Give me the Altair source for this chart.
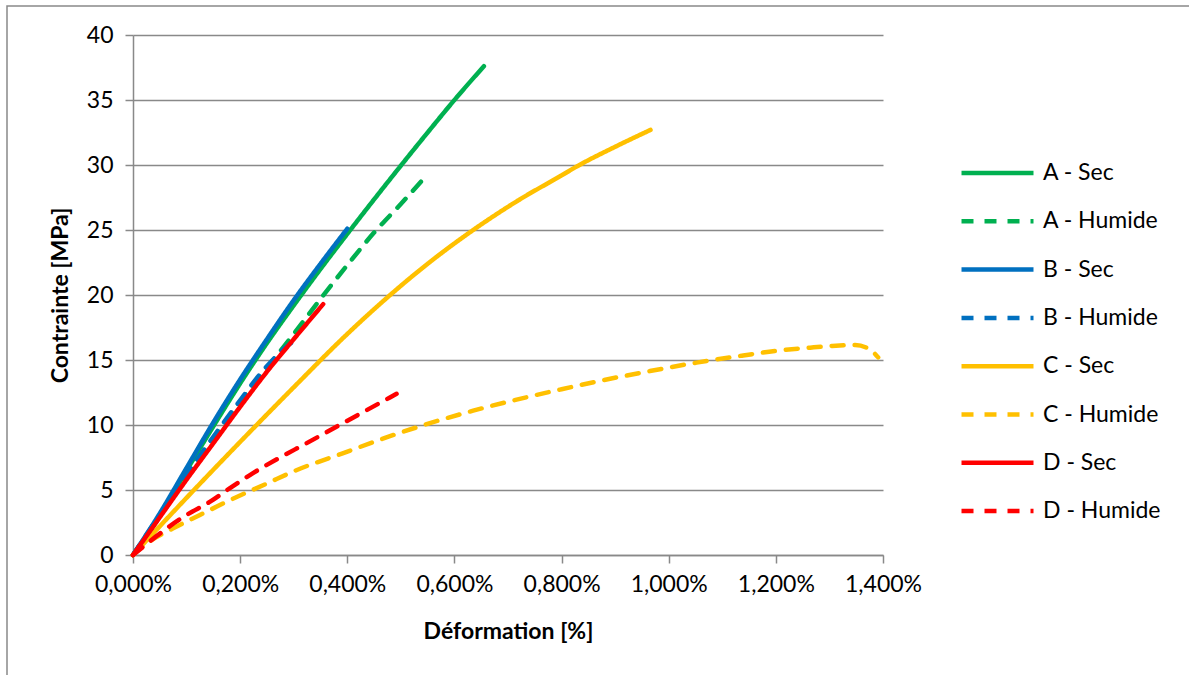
import altair as alt
import pandas as pd

# Stress-strain curves: strain in %, stress in MPa
series_names = ["A - Sec", "A - Humide", "B - Sec", "B - Humide",
                "C - Sec", "C - Humide", "D - Sec", "D - Humide"]
series_colors = ["#00B050", "#00B050", "#0070C0", "#0070C0",
                 "#FFC000", "#FFC000", "#FF0000", "#FF0000"]
series_dashes = [[1, 0], [12, 11], [1, 0], [12, 11],
                 [1, 0], [12, 11], [1, 0], [12, 11]]

a_sec_strain = [0, 0.05, 0.10, 0.15, 0.20, 0.25, 0.30, 0.35, 0.40, 0.45, 0.50, 0.55, 0.60, 0.655]
a_sec_stress = [0, 3.0, 6.5, 9.9, 13.2, 16.3, 19.2, 22.0, 24.7, 27.35, 29.95, 32.5, 35.0, 37.6]

a_hum_strain = [0, 0.05, 0.10, 0.15, 0.20, 0.25, 0.30, 0.35, 0.40, 0.45, 0.50, 0.548]
a_hum_stress = [0, 3.0, 6.1, 9.0, 11.8, 14.4, 17.0, 19.7, 22.3, 24.8, 27.0, 29.2]

b_sec_strain = [0, 0.05, 0.10, 0.15, 0.20, 0.25, 0.30, 0.35, 0.40]
b_sec_stress = [0, 3.2, 6.7, 10.2, 13.5, 16.6, 19.6, 22.4, 25.1]

b_hum_strain = [0, 0.05, 0.10, 0.15, 0.20, 0.237, 0.27, 0.295, 0.313]
b_hum_stress = [0, 3.1, 6.2, 9.1, 11.9, 13.9, 15.4, 16.3, 16.6]

c_sec_strain = [0, 0.10, 0.20, 0.30, 0.40, 0.48, 0.55, 0.635, 0.72, 0.80, 0.829, 0.90, 0.966]
c_sec_stress = [0, 4.4, 8.7, 12.9, 17.0, 20.0, 22.4, 25.0, 27.3, 29.2, 29.9, 31.4, 32.7]

c_hum_strain = [0, 0.026, 0.075, 0.125, 0.175, 0.25, 0.306, 0.39, 0.477, 0.551, 0.635,
                0.716, 0.80, 0.884, 0.965, 1.052, 1.139, 1.20, 1.264, 1.305, 1.348,
                1.376, 1.391]
c_hum_stress = [0, 0.9, 2.05, 3.08, 4.1, 5.5, 6.54, 7.8, 9.1, 10.1, 11.1,
                11.95, 12.75, 13.5, 14.15, 14.8, 15.35, 15.7, 15.95, 16.08, 16.15,
                15.8, 15.2]

d_sec_strain = [0, 0.05, 0.10, 0.15, 0.20, 0.25, 0.30, 0.355]
d_sec_stress = [0, 2.9, 5.8, 8.6, 11.4, 14.1, 16.6, 19.3]

d_hum_strain = [0, 0.03, 0.063, 0.10, 0.144, 0.181, 0.224, 0.27, 0.324, 0.39, 0.461, 0.492]
d_hum_stress = [0, 1.0, 2.05, 3.08, 4.1, 5.15, 6.3, 7.4, 8.6, 10.1, 11.7, 12.4]

x_ticks = [0, 0.2, 0.4, 0.6, 0.8, 1.0, 1.2, 1.4]
y_ticks = [0, 5, 10, 15, 20, 25, 30, 35, 40]

curves = [
    (a_sec_strain, a_sec_stress), (a_hum_strain, a_hum_stress),
    (b_sec_strain, b_sec_stress), (b_hum_strain, b_hum_stress),
    (c_sec_strain, c_sec_stress), (c_hum_strain, c_hum_stress),
    (d_sec_strain, d_sec_stress), (d_hum_strain, d_hum_stress),
]

rows = []
for name, (xs, ys) in zip(series_names, curves):
    for i, (x, y) in enumerate(zip(xs, ys)):
        rows.append({"series": name, "strain": x, "stress": y, "idx": i})
df = pd.DataFrame(rows)

FONT = "Lato"
GRID = "#898989"

legend_opts = dict(
    title=None, orient="none", legendX=826, legendY=126,
    symbolType="stroke", symbolSize=5184, symbolStrokeWidth=4.5,
    labelFont=FONT, labelFontSize=23, labelColor="#000000", labelOffset=7,
    clipHeight=24, rowPadding=24.3, padding=0, labelLimit=300,
)

lines = alt.Chart(df).mark_line(
    strokeWidth=4.5, strokeCap="round", strokeJoin="round", interpolate="monotone"
).encode(
    x=alt.X("strain:Q",
            scale=alt.Scale(domain=[0, 1.4], nice=False, zero=True),
            axis=alt.Axis(values=x_ticks, grid=False, labelOverlap=False,
                          labelFlush=False,
                          labelExpr="replace(format(datum.value, '.3f'), '.', ',') + '%'",
                          title="Déformation [%]", titlePadding=24,
                          tickSize=8, labelPadding=10)),
    y=alt.Y("stress:Q",
            scale=alt.Scale(domain=[0, 40], nice=False),
            axis=alt.Axis(values=y_ticks, grid=True, labelOverlap=False,
                          labelFlush=False,
                          title="Contrainte [MPa]", titlePadding=14,
                          tickSize=8, labelPadding=12)),
    color=alt.Color("series:N",
                    scale=alt.Scale(domain=series_names, range=series_colors),
                    legend=alt.Legend(**legend_opts)),
    strokeDash=alt.StrokeDash("series:N",
                              scale=alt.Scale(domain=series_names, range=series_dashes),
                              legend=alt.Legend(**legend_opts)),
    order="idx:Q",
)

# Outer frame around the whole figure
frame = alt.Chart(alt.Data(values=[{}])).mark_rect(
    filled=False, stroke=GRID, strokeWidth=1.5
).encode(
    x=alt.value(-126), x2=alt.value(1070),
    y=alt.value(-29), y2=alt.value(650),
)

chart = alt.layer(frame, lines).properties(
    width=750, height=520,
    autosize=alt.AutoSizeParams(type="none"),
    padding={"left": 133, "top": 35, "right": 306, "bottom": 120},
    background="#ffffff",
).configure_view(
    stroke=None
).configure_axis(
    labelFont=FONT, labelFontSize=23, labelColor="#000000",
    titleFont=FONT, titleFontSize=23, titleFontWeight="bold", titleColor="#000000",
    domainColor=GRID, domainWidth=1.5, tickColor=GRID, tickWidth=1.5,
    gridColor=GRID, gridWidth=1.5,
)

chart.save("out.html", embed_options={"renderer": "svg", "actions": False})
